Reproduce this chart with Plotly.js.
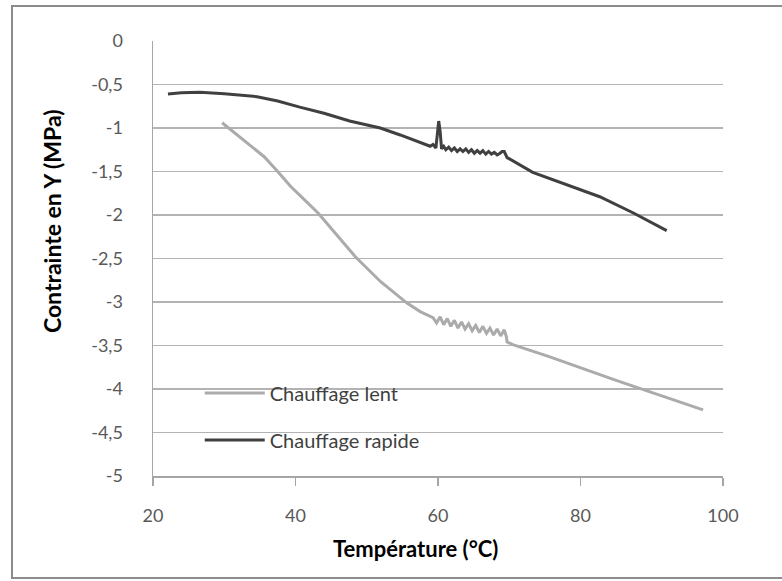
<!DOCTYPE html>
<html>
<head>
<meta charset="utf-8">
<script src="https://cdn.plot.ly/plotly-3.0.1.min.js"></script>
<style>
  html, body { margin: 0; padding: 0; background: #ffffff; width: 782px; height: 581px; overflow: hidden; }
  #chart { width: 782px; height: 581px; }
  #frame { position: absolute; left: 11px; top: 5px; width: 771px; height: 574px;
           border: 2px solid #8c8c8c; border-right: none; pointer-events: none; box-sizing: border-box; }
</style>
</head>
<body>
<div id="chart"></div>
<div id="frame"></div>
<script>
// Chauffage lent (slow heating)
const temperatureLent = [29.7, 31.5, 33.6, 35.6, 37.5, 39.3, 41.2, 43.2, 45.8, 48.4, 52.0, 55.6, 57.5, 59.3,
  59.8, 60.3, 60.8, 61.3, 61.8, 62.3, 62.8, 63.3, 63.8, 64.3, 64.8, 65.3, 65.8, 66.3, 66.8, 67.3, 67.8,
  68.3, 68.8, 69.3, 69.6, 69.7, 70.5, 75.7, 85.0, 97.2];
const contrainteLent = [-0.94, -1.06, -1.19, -1.33, -1.50, -1.67, -1.82, -1.98, -2.23, -2.48, -2.77, -3.01, -3.11, -3.18,
  -3.24, -3.17, -3.26, -3.19, -3.28, -3.21, -3.30, -3.23, -3.31, -3.25, -3.33, -3.27, -3.35, -3.28, -3.36, -3.30, -3.38,
  -3.31, -3.39, -3.32, -3.40, -3.46, -3.49, -3.63, -3.90, -4.24];

// Chauffage rapide (fast heating)
const temperatureRapide = [22.1, 24.0, 26.6, 30.0, 34.6, 37.5, 40.6, 44.0, 47.6, 51.9, 54.7, 57.0, 58.9,
  59.3, 59.7, 59.9, 60.1, 60.3, 60.5, 60.8, 61.1, 61.5, 61.9, 62.3, 62.7, 63.1, 63.5, 63.9, 64.3, 64.7,
  65.1, 65.5, 65.9, 66.3, 66.7, 67.1, 67.5, 67.9, 68.3, 68.7, 69.0, 69.3, 69.7, 73.3, 78.0, 82.7, 87.5, 92.1];
const contrainteRapide = [-0.61, -0.595, -0.59, -0.605, -0.64, -0.69, -0.76, -0.83, -0.92, -1.00, -1.08, -1.15, -1.21,
  -1.19, -1.23, -1.08, -0.92, -1.04, -1.24, -1.21, -1.25, -1.22, -1.26, -1.23, -1.27, -1.24, -1.27, -1.24, -1.28, -1.25,
  -1.29, -1.26, -1.29, -1.26, -1.30, -1.27, -1.30, -1.28, -1.31, -1.29, -1.27, -1.27, -1.34, -1.51, -1.65, -1.79, -1.98, -2.18];

const seriesNames = ["Chauffage lent", "Chauffage rapide"];
const xTitle = "Température (°C)";
const yTitle = "Contrainte en Y (MPa)";
const xTickVals = [20, 40, 60, 80, 100];
const xTickText = ["20", "40", "60", "80", "100"];
const yTickVals = [0, -0.5, -1, -1.5, -2, -2.5, -3, -3.5, -4, -4.5, -5];
const yTickText = ["0", "-0,5", "-1", "-1,5", "-2", "-2,5", "-3", "-3,5", "-4", "-4,5", "-5"];

const FONT = "Lato, 'Open Sans', 'Liberation Sans', sans-serif";

const traces = [
  { x: temperatureLent, y: contrainteLent, type: "scatter", mode: "lines", name: seriesNames[0],
    line: { color: "#ababab", width: 3 }, legend: "legend" },
  { x: temperatureRapide, y: contrainteRapide, type: "scatter", mode: "lines", name: seriesNames[1],
    line: { color: "#404040", width: 3 }, legend: "legend2" }
];

const legendCommon = {
  font: { family: FONT, size: 20, color: "#404040" },
  bgcolor: "rgba(0,0,0,0)", xanchor: "left", yanchor: "middle", itemwidth: 60
};

const layout = {
  width: 782, height: 581,
  margin: { l: 153, r: 59, t: 41, b: 105 },
  paper_bgcolor: "#ffffff", plot_bgcolor: "#ffffff",
  font: { family: FONT, size: 13, color: "#595959" },
  showlegend: true,
  legend: Object.assign({ x: 0.082, y: 0.191 }, legendCommon),
  legend2: Object.assign({ x: 0.082, y: 0.083 }, legendCommon),
  xaxis: {
    range: [20, 100], tickvals: xTickVals, ticktext: xTickText,
    showgrid: false, zeroline: false,
    showline: true, linecolor: "#a6a6a6", linewidth: 1.5,
    ticks: "outside", ticklen: 8, tickcolor: "#a6a6a6", tickwidth: 1.5,
    ticklabelstandoff: 15,
    tickfont: { family: FONT, size: 18, color: "#595959" }
  },
  yaxis: {
    range: [-5, 0], tickvals: yTickVals, ticktext: yTickText,
    showgrid: true, gridcolor: "#b3b3b3", gridwidth: 1.3, zeroline: false,
    showline: true, linecolor: "#a6a6a6", linewidth: 1.5,
    ticks: "", ticklabelstandoff: 25,
    tickfont: { family: FONT, size: 18, color: "#595959" }
  },
  annotations: [
    { text: "<b>" + yTitle + "</b>", xref: "paper", yref: "paper",
      x: -0.178, y: 0.585, textangle: -90, showarrow: false,
      xanchor: "center", yanchor: "middle",
      font: { family: FONT, size: 23, color: "#000000" } },
    { text: "<b>" + xTitle + "</b>", xref: "paper", yref: "paper",
      x: 0.46, y: -0.166, showarrow: false,
      xanchor: "center", yanchor: "middle",
      font: { family: FONT, size: 22, color: "#000000" } }
  ]
};

Plotly.newPlot("chart", traces, layout, { staticPlot: true, displayModeBar: false });
</script>
</body>
</html>
